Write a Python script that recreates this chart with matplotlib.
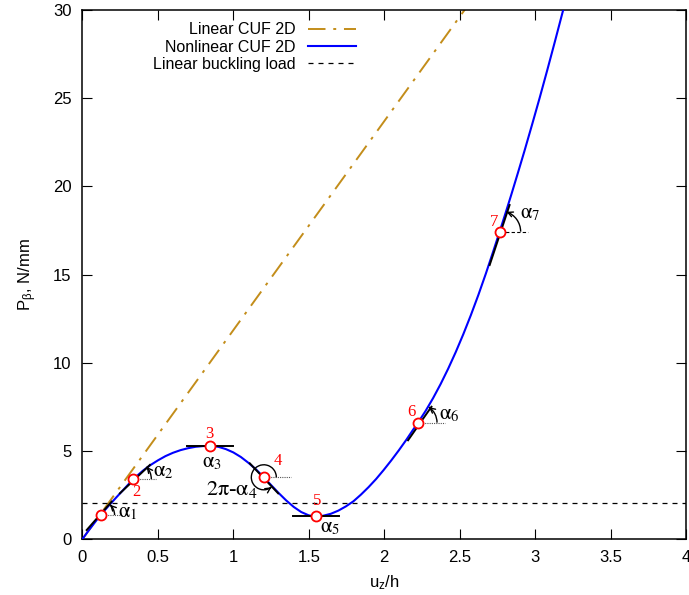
import numpy as np
import matplotlib
matplotlib.use("Agg")
import matplotlib.pyplot as plt
from matplotlib.patches import Arc
from matplotlib.transforms import Affine2D, ScaledTranslation

plt.rcParams['font.family'] = ['Liberation Sans', 'DejaVu Sans']
plt.rcParams['mathtext.fontset'] = 'custom'
plt.rcParams['mathtext.rm'] = 'Liberation Sans'
plt.rcParams['mathtext.it'] = 'Liberation Sans:italic'

# ---- data ----
nl_x = [0.0, 0.04, 0.08, 0.12, 0.17, 0.22, 0.27, 0.337, 0.40, 0.45, 0.50, 0.55,
        0.60, 0.65, 0.70, 0.75, 0.80, 0.844, 0.90, 0.95, 1.00, 1.05, 1.10, 1.15,
        1.202, 1.25, 1.30, 1.35, 1.40, 1.45, 1.50, 1.546, 1.596, 1.646, 1.696,
        1.746, 1.796, 1.846, 1.896, 1.946, 1.996, 2.046, 2.096, 2.146, 2.19,
        2.224, 2.274, 2.324, 2.374, 2.424, 2.474, 2.524, 2.574, 2.624, 2.674,
        2.724, 2.765, 2.80, 2.842, 2.886, 2.93, 2.98, 3.03, 3.08, 3.13, 3.184,
        3.23]
nl_y = [0.0, 0.47, 0.92, 1.36, 1.85, 2.32, 2.78, 3.40, 3.87, 4.19, 4.46, 4.70,
        4.89, 5.04, 5.15, 5.23, 5.27, 5.28, 5.23, 5.10, 4.91, 4.65, 4.32, 3.95,
        3.50, 3.06, 2.61, 2.19, 1.82, 1.53, 1.34, 1.28, 1.32, 1.43, 1.61,
        1.85, 2.14, 2.52, 2.94, 3.40, 3.91, 4.45, 5.02, 5.62, 6.18,
        6.60, 7.26, 7.99, 8.79, 9.66, 10.60, 11.61, 12.69, 13.84, 15.06,
        16.35, 17.43, 18.37, 19.52, 20.76, 22.02, 23.50, 25.01, 26.57, 28.17,
        29.93, 31.48]

lin_x = [0.0, 2.60]
lin_y = [0.0, 30.8]

buckling_load = 2.06

pt_x = [0.12, 0.337, 0.844, 1.202, 1.546, 2.224, 2.765]
pt_y = [1.36, 3.40, 5.28, 3.50, 1.28, 6.60, 17.43]
pt_labels = ['', '2', '3', '4', '5', '6', '7']

# tangent segments (x0, y0, x1, y1)
tangents = [(0.028, 0.51, 0.193, 2.12),
            (0.248, 2.59, 0.447, 4.20),
            (0.694, 5.28, 0.995, 5.28),
            (1.109, 4.29, 1.297, 2.59),
            (1.396, 1.28, 1.700, 1.28),
            (2.158, 5.60, 2.313, 7.50),
            (2.699, 15.54, 2.831, 18.94)]

fig = plt.figure(figsize=(6.89, 5.95), dpi=100)
ax = fig.add_axes([0.1197, 0.0941, 0.9956 - 0.1197, 0.9832 - 0.0941])

ax.plot(lin_x, lin_y, color='#c38d1a', lw=1.4, dashes=(9, 4, 1.5, 4),
        label='Linear CUF 2D')
ax.plot(nl_x, nl_y, color='#0000ff', lw=1.5, label='Nonlinear CUF 2D', zorder=3)
ax.axhline(buckling_load, color='black', lw=0.9, dashes=(4, 4),
           label='Linear buckling load')

for (x0, y0, x1, y1) in tangents:
    ax.plot([x0, x1], [y0, y1], color='black', lw=1.4, zorder=4)

# dotted horizontal reference lines
dotted = [(0, 0.26), (1, 0.49), (3, 1.385), (5, 2.40)]
for i, xe in dotted:
    ax.plot([pt_x[i], xe], [pt_y[i], pt_y[i]], color='#555555', lw=0.8,
            linestyle=(0, (1, 1)), zorder=4)
ax.plot([pt_x[6], 2.95], [pt_y[6], pt_y[6]], color='black', lw=0.8,
        dashes=(3, 2), zorder=4)

ax.plot(pt_x, pt_y, 'o', mfc='white', mec='red', mew=1.3, ms=7.2, zorder=6)

# red point numbers
num_pos = [None, (0.359, 2.68), (0.844, 5.95), (1.293, 4.42), (1.555, 2.17),
           (2.180, 7.22), (2.727, 18.0)]
for lab, p in zip(pt_labels, num_pos):
    if p is None:
        continue
    ax.text(p[0], p[1], lab, color='red', fontsize=12, ha='center', va='center',
            family='Liberation Serif', zorder=7)

# alpha labels
alpha_txt = [r'$\mathrm{\alpha}_1$', r'$\mathrm{\alpha}_2$', r'$\mathrm{\alpha}_3$',
             r'$\mathrm{2\pi}$-$\mathrm{\alpha}_4$',
             r'$\mathrm{\alpha}_5$', r'$\mathrm{\alpha}_6$', r'$\mathrm{\alpha}_7$']
alpha_pos = [(0.303, 1.50), (0.535, 3.80), (0.856, 4.30), (0.988, 2.78),
             (1.64, 0.62), (2.434, 7.03), (2.964, 18.47)]
alpha_fs = [15, 15, 15, 16, 15, 15, 15]
for t, p, fs in zip(alpha_txt, alpha_pos, alpha_fs):
    ax.text(p[0], p[1], t, fontsize=fs, ha='center', va='center',
            math_fontfamily='stix', family='Liberation Serif', zorder=7)

# angle arcs drawn in pixel space
def arc(i, r, t1, t2):
    T = (Affine2D().scale(r / fig.dpi) + fig.dpi_scale_trans +
         ScaledTranslation(pt_x[i], pt_y[i], ax.transData))
    ax.add_patch(Arc((0, 0), 2, 2, theta1=t1, theta2=t2, transform=T,
                     color='black', lw=1.0, zorder=5))
    a = np.deg2rad(t2)
    b = np.deg2rad(t2 - 8)
    ax.annotate('', xy=(np.cos(a), np.sin(a)), xycoords=T,
                xytext=(np.cos(b), np.sin(b)), textcoords=T,
                arrowprops=dict(arrowstyle='->', lw=1.0, color='black',
                                shrinkA=0, shrinkB=0, mutation_scale=9),
                zorder=5)

arc(0, 14, 0, 48)
arc(1, 18, 0, 43)
arc(3, 12.5, 0, 308)
arc(5, 19, 0, 55)
arc(6, 21, 0, 71)

ax.set_xlim(0, 4)
ax.set_ylim(0, 30)
ax.set_xticks([0, 0.5, 1, 1.5, 2, 2.5, 3, 3.5, 4])
ax.set_xticklabels(['0', '0.5', '1', '1.5', '2', '2.5', '3', '3.5', '4'])
ax.set_yticks([0, 5, 10, 15, 20, 25, 30])
ax.tick_params(direction='in', length=7, width=0.8, top=True, right=True,
               labelsize=12, pad=8)
for s in ax.spines.values():
    s.set_linewidth(1.1)

ax.set_xlabel(r'u$_\mathrm{z}$/h', fontsize=12, labelpad=6)
ax.set_ylabel(r'P$_\mathrm{\beta}$, N/mm', fontsize=12, labelpad=10)

ax.legend(loc='upper left', bbox_to_anchor=(0.093, 1.004), frameon=False,
          markerfirst=False, fontsize=11.5, handlelength=3.0,
          labelspacing=0.15, handletextpad=0.8)

fig.savefig('out.png', dpi=100)
